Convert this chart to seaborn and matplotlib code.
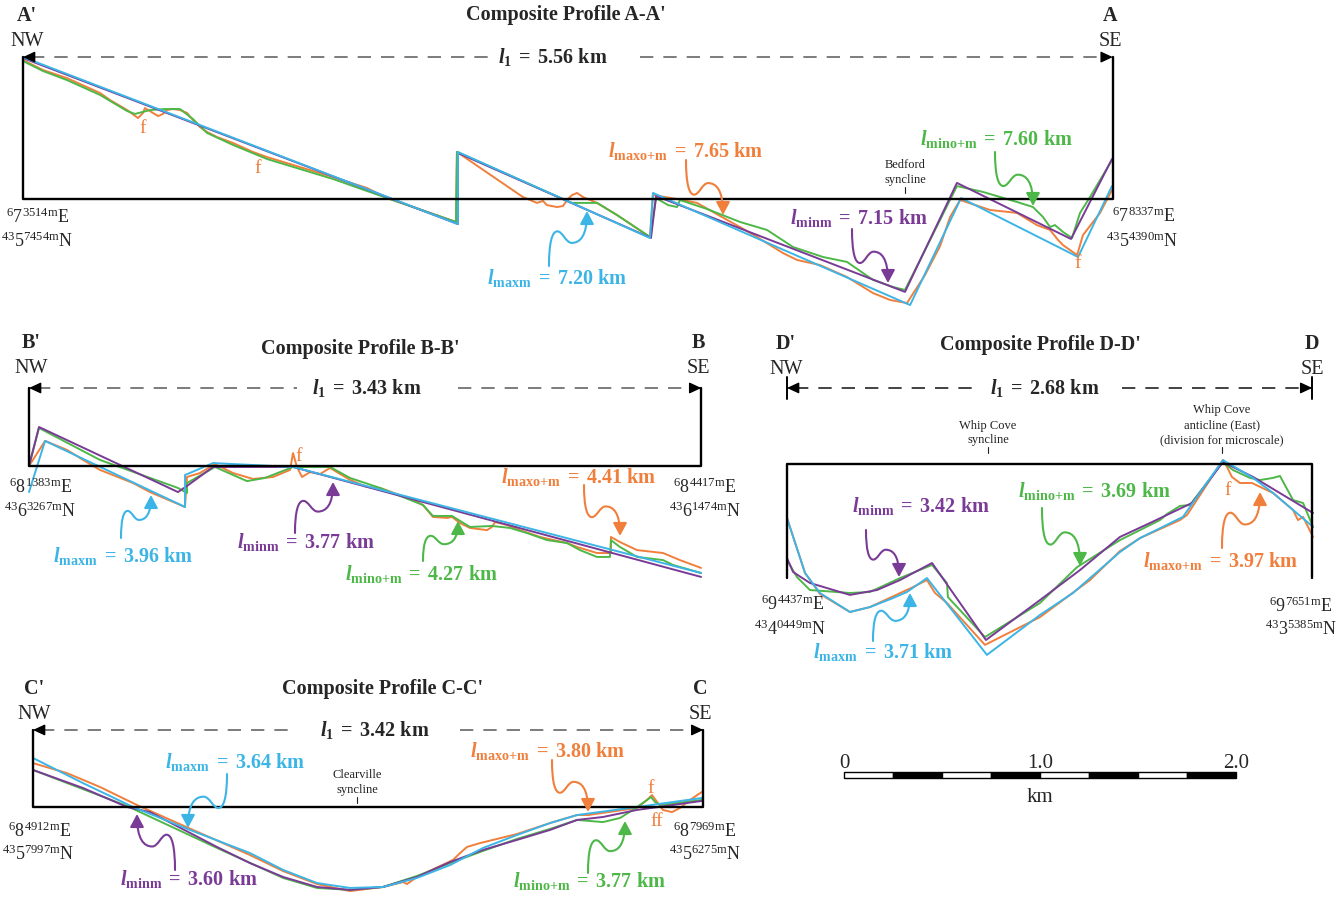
import matplotlib.pyplot as plt
import pandas as pd
import seaborn as sns
from matplotlib.patches import FancyArrowPatch
from matplotlib.path import Path

# distance along section [km] / height relative to frame line [km]
# ---- Composite Profile A-A' ----
a_maxo_x = [0, 0.102, 0.224, 0.393, 0.444, 0.531, 0.587, 0.612, 0.622, 0.663, 0.689, 0.714, 0.735, 0.765,
            0.801, 0.837, 0.867, 0.903, 0.939, 0.990, 1.071, 1.173, 1.245, 1.413, 1.582, 1.755, 1.857, 2.077,
            2.209, 2.214, 2.536, 2.551, 2.622, 2.653, 2.673, 2.724, 2.755, 2.776, 2.801, 2.827, 2.857, 2.929,
            3.031, 3.199, 3.214, 3.337, 3.439, 3.566, 3.658, 3.745, 3.878, 3.949, 4.066, 4.204, 4.337, 4.423,
            4.510, 4.602, 4.679, 4.730, 4.781, 4.934, 5.071, 5.173, 5.240, 5.281, 5.306, 5.378, 5.408, 5.495, 5.556]
a_maxo_y = [0.709, 0.658, 0.617, 0.541, 0.505, 0.454, 0.413, 0.439, 0.464, 0.439, 0.423, 0.434, 0.454, 0.459,
            0.454, 0.439, 0.403, 0.367, 0.342, 0.316, 0.286, 0.240, 0.214, 0.163, 0.112, 0.056, 0.005, -0.071,
            -0.117, 0.240, 0.020, 0.010, -0.020, -0.010, -0.031, -0.041, -0.036, -0.005, 0.020, 0.031, 0.010, -0.020,
            -0.082, -0.194, 0.020, 0.000, -0.020, -0.092, -0.143, -0.194, -0.276, -0.311, -0.337, -0.398, -0.480, -0.515,
            -0.531, -0.388, -0.240, -0.092, -0.005, -0.056, -0.071, -0.133, -0.158, -0.209, -0.235, -0.286, -0.184, -0.071, 0.046]
a_mino_x = [0, 0.102, 0.224, 0.393, 0.531, 0.571, 0.649, 0.724, 0.801, 0.867, 0.939, 1.071, 1.245, 1.582,
            1.857, 2.209, 2.214, 2.800, 2.929, 3.031, 3.199, 3.230, 3.291, 3.337, 3.352, 3.490, 3.658,
            3.796, 3.929, 4.082, 4.204, 4.337, 4.439, 4.500, 4.628, 4.765, 4.898, 5.071, 5.153, 5.204, 5.240,
            5.265, 5.306, 5.352, 5.393, 5.444, 5.556]
a_mino_y = [0.704, 0.653, 0.607, 0.531, 0.449, 0.434, 0.454, 0.459, 0.459, 0.408, 0.337, 0.276, 0.204, 0.102,
            0.005, -0.117, 0.240, -0.020, -0.020, -0.082, -0.194, 0.005, -0.031, -0.041, -0.005, -0.051, -0.117,
            -0.158, -0.245, -0.296, -0.321, -0.413, -0.449, -0.464, -0.209, 0.066, 0.036, -0.015, -0.041, -0.092, -0.143,
            -0.133, -0.168, -0.199, -0.071, 0.010, 0.199]
a_minm_x = [0, 2.219, 2.219, 3.204, 3.230, 4.500, 4.765, 5.347, 5.556]
a_minm_y = [0.719, -0.128, 0.235, -0.199, 0.015, -0.474, 0.082, -0.204, 0.204]
a_maxm_x = [0, 2.219, 2.219, 3.199, 3.214, 4.526, 4.786, 5.383, 5.556]
a_maxm_y = [0.724, -0.128, 0.240, -0.199, 0.031, -0.541, 0.005, -0.296, 0.066]

# ---- Composite Profile B-B' ----
b_maxo_x = [0, 0.082, 0.194, 0.276, 0.362, 0.531, 0.617, 0.796, 0.806, 0.872, 0.949, 1.041, 1.143, 1.245,
            1.332, 1.347, 1.367, 1.393, 1.434, 1.485, 1.536, 1.571, 1.638, 1.724, 1.791, 1.959, 2.010, 2.061,
            2.133, 2.158, 2.199, 2.250, 2.337, 2.362, 2.378, 2.439, 2.505, 2.607, 2.745, 2.796, 2.898, 2.969,
            2.969, 3.015, 3.102, 3.235, 3.321, 3.429]
b_maxo_y = [0, 0.128, 0.082, 0.031, -0.020, -0.087, -0.133, -0.209, -0.056, -0.036, 0.010, -0.036, -0.066, -0.056,
            -0.020, 0.066, -0.005, -0.056, -0.031, -0.041, -0.010, -0.031, -0.071, -0.107, -0.112, -0.173, -0.199, -0.260,
            -0.265, -0.260, -0.291, -0.316, -0.327, -0.311, -0.286, -0.301, -0.327, -0.362, -0.393, -0.413, -0.444, -0.444,
            -0.362, -0.388, -0.429, -0.444, -0.480, -0.520]
b_mino_x = [0, 0.051, 0.362, 0.760, 0.806, 0.806, 0.949, 1.112, 1.204, 1.347, 1.536, 1.638, 1.791, 2.010,
            2.061, 2.158, 2.250, 2.362, 2.454, 2.541, 2.643, 2.745, 2.811, 2.898, 2.964, 2.969, 3.015, 3.102,
            3.235, 3.286, 3.429]
b_mino_y = [0, 0.194, 0.031, -0.112, -0.138, -0.087, -0.005, -0.077, -0.061, -0.005, -0.005, -0.061, -0.112, -0.199,
            -0.255, -0.255, -0.311, -0.306, -0.316, -0.342, -0.378, -0.393, -0.429, -0.464, -0.464, -0.378, -0.413, -0.464,
            -0.480, -0.505, -0.546]
b_minm_x = [0, 0.051, 0.760, 0.806, 0.939, 1.347, 3.429]
b_minm_y = [0, 0.199, -0.133, -0.102, -0.005, -0.005, -0.566]
b_maxm_x = [0, 0.082, 0.796, 0.796, 0.939, 1.347, 3.429]
b_maxm_y = [-0.133, 0.128, -0.209, -0.046, 0.015, -0.005, -0.546]

# ---- Composite Profile C-C' ----
c_maxo_x = [0, 0.173, 0.342, 0.531, 0.816, 1.107, 1.276, 1.449, 1.617, 1.786, 1.888, 1.908, 1.959, 2.143,
            2.179, 2.214, 2.281, 2.469, 2.653, 2.776, 2.832, 3.082, 3.133, 3.158, 3.184, 3.214, 3.260, 3.301,
            3.352, 3.413]
c_maxo_y = [0.224, 0.173, 0.102, 0.010, -0.117, -0.245, -0.327, -0.393, -0.429, -0.408, -0.383, -0.393, -0.357, -0.270,
            -0.235, -0.204, -0.184, -0.138, -0.077, -0.041, -0.041, -0.005, 0.036, 0.061, 0.026, -0.015, -0.026, -0.005,
            0.036, 0.077]
c_mino_x = [0, 0.480, 0.939, 1.276, 1.449, 1.617, 1.786, 1.959, 2.128, 2.296, 2.469, 2.638, 2.776, 2.908,
            2.995, 3.061, 3.133, 3.153, 3.173, 3.199, 3.413]
c_mino_y = [0.189, 0.005, -0.209, -0.362, -0.413, -0.423, -0.408, -0.352, -0.286, -0.224, -0.163, -0.112, -0.066, -0.077,
            -0.056, -0.015, 0.036, 0.051, 0.026, 0.010, 0.036]
c_minm_x = [0, 0.255, 0.480, 0.597, 0.939, 1.107, 1.276, 1.449, 1.617, 1.786, 1.959, 2.128, 2.296, 2.469,
            2.638, 2.776, 2.908, 3.082, 3.413]
c_minm_y = [0.189, 0.097, 0.000, -0.026, -0.204, -0.286, -0.357, -0.408, -0.423, -0.408, -0.357, -0.281, -0.219, -0.168,
            -0.117, -0.066, -0.051, -0.015, 0.031]
c_maxm_x = [0, 0.255, 0.510, 0.801, 1.107, 1.276, 1.449, 1.617, 1.786, 1.959, 2.128, 2.296, 2.469, 2.638,
            2.776, 3.082, 3.413]
c_maxm_y = [0.250, 0.122, 0.000, -0.117, -0.235, -0.321, -0.388, -0.413, -0.408, -0.362, -0.296, -0.209, -0.143, -0.082,
            -0.041, 0.000, 0.046]

# ---- Composite Profile D-D' ----
d_maxo_x = [0, 0.092, 0.168, 0.321, 0.423, 0.643, 0.714, 0.755, 0.816, 1.010, 1.291, 1.546, 1.699, 1.801,
            2.005, 2.041, 2.224, 2.245, 2.270, 2.311, 2.372, 2.480, 2.582, 2.607, 2.633, 2.684]
d_maxo_y = [-0.276, -0.556, -0.663, -0.755, -0.730, -0.628, -0.592, -0.658, -0.709, -0.923, -0.781, -0.592, -0.444, -0.378,
            -0.286, -0.260, 0.020, -0.015, -0.066, -0.097, -0.097, -0.148, -0.235, -0.286, -0.270, -0.372]
d_mino_x = [0, 0.051, 0.117, 0.321, 0.423, 0.577, 0.740, 0.816, 0.821, 1.010, 1.291, 1.480, 1.699, 1.903,
            1.939, 2.005, 2.056, 2.224, 2.276, 2.362, 2.413, 2.480, 2.515, 2.582, 2.633, 2.684]
d_mino_y = [-0.490, -0.577, -0.643, -0.658, -0.653, -0.582, -0.515, -0.607, -0.679, -0.883, -0.709, -0.526, -0.388, -0.286,
            -0.255, -0.214, -0.209, 0.010, -0.031, -0.071, -0.082, -0.071, -0.061, -0.184, -0.199, -0.321]
d_minm_x = [0, 0.031, 0.117, 0.321, 0.459, 0.577, 0.740, 1.015, 1.291, 1.495, 1.699, 1.852, 2.066, 2.224, 2.378, 2.684]
d_minm_y = [-0.480, -0.551, -0.607, -0.668, -0.643, -0.592, -0.505, -0.898, -0.694, -0.541, -0.372, -0.301, -0.199, 0.010,
            -0.066, -0.250]
d_maxm_x = [0, 0.092, 0.168, 0.321, 0.423, 0.541, 0.612, 0.714, 1.020, 1.291, 1.459, 1.699, 1.801, 2.020,
            2.224, 2.378, 2.480, 2.684]
d_maxm_y = [-0.276, -0.556, -0.658, -0.755, -0.730, -0.684, -0.653, -0.582, -0.974, -0.770, -0.658, -0.449, -0.378, -0.270,
            0.020, -0.071, -0.148, -0.321]

# section lengths [km]
a_lengths = {"l1": 5.56, "maxo+m": 7.65, "mino+m": 7.60, "minm": 7.15, "maxm": 7.20}
b_lengths = {"l1": 3.43, "maxo+m": 4.41, "mino+m": 4.27, "minm": 3.77, "maxm": 3.96}
c_lengths = {"l1": 3.42, "maxo+m": 3.80, "mino+m": 3.77, "minm": 3.60, "maxm": 3.64}
d_lengths = {"l1": 2.68, "maxo+m": 3.97, "mino+m": 3.69, "minm": 3.42, "maxm": 3.71}

# UTM end-point coordinates (prefix, big digit, metres, axis)
a_coords = [("6", "7", "3514", "E"), ("43", "5", "7454", "N"), ("6", "7", "8337", "E"), ("43", "5", "4390", "N")]
b_coords = [("6", "8", "1383", "E"), ("43", "6", "3267", "N"), ("6", "8", "4417", "E"), ("43", "6", "1474", "N")]
c_coords = [("6", "8", "4912", "E"), ("43", "5", "7997", "N"), ("6", "8", "7969", "E"), ("43", "5", "6275", "N")]
d_coords = [("6", "9", "4437", "E"), ("43", "4", "0449", "N"), ("6", "9", "7651", "E"), ("43", "3", "5385", "N")]

scale_km = [0, 1.0, 2.0]
scale_edges = [0, 0.25, 0.5, 0.75, 1.0, 1.25, 1.5, 1.75]

ORDER = ["maxo+m", "mino+m", "minm", "maxm"]
COLORS = {"maxo+m": "#F07F3C", "mino+m": "#4DB848", "minm": "#7A3B96", "maxm": "#3CB5E6"}
SUBS = {"maxo+m": "maxo{+}m", "mino+m": "mino{+}m", "minm": "minm", "maxm": "maxm"}

W, H = 1342, 898
PX_PER_KM = 196.0

sns.set_theme(style="white")
plt.rcParams["font.family"] = ["Liberation Serif", "DejaVu Serif"]
plt.rcParams["mathtext.fontset"] = "custom"
plt.rcParams["mathtext.rm"] = "Liberation Serif"
plt.rcParams["mathtext.it"] = "Liberation Serif:italic:bold"
plt.rcParams["mathtext.bf"] = "Liberation Serif:bold"

fig = plt.figure(figsize=(W / 100, H / 100), dpi=100)
fig.patch.set_facecolor("white")


def length_label(sub, value):
    return rf"$\mathit{{l}}_{{\mathbf{{{sub}}}}}\;\mathbf{{=}}\;\mathbf{{{value:.2f}\ km}}$"


def coord_label(c):
    return rf"$^{{{c[0]}}}$" + c[1] + rf"$^{{{c[2]}\mathrm{{m}}}}$" + c[3]


def draw_panel(x0, base, l1, top, series, gap, down=None, dash_color="#666666"):
    ax = fig.add_axes([x0 / W, 0, l1 * PX_PER_KM / W, 1])
    ax.patch.set_alpha(0)
    df = pd.concat(
        [pd.DataFrame({"dist": xs, "elev": ys, "model": m}) for m, (xs, ys) in series.items()],
        ignore_index=True,
    )
    sns.lineplot(data=df, x="dist", y="elev", hue="model", hue_order=ORDER, palette=COLORS,
                 sort=False, estimator=None, legend=False, linewidth=1.4, ax=ax)
    if down is None:
        ax.plot([0, 0, l1, l1], [top, 0, 0, top], color="black", lw=1.7)
    else:
        ax.plot([0, 0, l1, l1], [down, 0, 0, down], color="black", lw=1.7)
        for xe in (0, l1):
            ax.plot([xe, xe], [top - 0.056, top + 0.056], color="black", lw=1.4)
    for a, b in ((0.04, gap[0]), (gap[1], l1 - 0.04)):
        ax.plot([a, b], [top, top], color=dash_color, lw=1.2, dashes=(8, 6))
    for xa, xt in ((0, 0.055), (l1, l1 - 0.055)):
        ax.annotate("", xy=(xa, top), xytext=(xt, top), annotation_clip=False,
                    arrowprops=dict(arrowstyle="-|>,head_length=0.6,head_width=0.28", color="black",
                                    lw=1.0, mutation_scale=12, shrinkA=0, shrinkB=0))
    for ln in ax.lines:
        ln.set_clip_on(False)
    ax.set_xlim(0, l1)
    ax.set_ylim((base - H) / PX_PER_KM, base / PX_PER_KM)
    ax.set_axis_off()
    return ax


draw_panel(23, 199, a_lengths["l1"], 0.724,
           {"maxo+m": (a_maxo_x, a_maxo_y), "mino+m": (a_mino_x, a_mino_y),
            "minm": (a_minm_x, a_minm_y), "maxm": (a_maxm_x, a_maxm_y)}, (2.383, 3.148))
draw_panel(29, 466, b_lengths["l1"], 0.398,
           {"maxo+m": (b_maxo_x, b_maxo_y), "mino+m": (b_mino_x, b_mino_y),
            "minm": (b_minm_x, b_minm_y), "maxm": (b_maxm_x, b_maxm_y)}, (1.367, 2.189))
draw_panel(33, 807, c_lengths["l1"], 0.393,
           {"maxo+m": (c_maxo_x, c_maxo_y), "mino+m": (c_mino_x, c_mino_y),
            "minm": (c_minm_x, c_minm_y), "maxm": (c_maxm_x, c_maxm_y)}, (1.347, 2.179))
draw_panel(787, 464, d_lengths["l1"], 0.388,
           {"maxo+m": (d_maxo_x, d_maxo_y), "mino+m": (d_mino_x, d_mino_y),
            "minm": (d_minm_x, d_minm_y), "maxm": (d_maxm_x, d_maxm_y)}, (0.969, 1.709),
           down=-0.582, dash_color="#222222")

# scale bar
sb = fig.add_axes([844 / W, 1 - 778 / H, 2 * PX_PER_KM / W, 6 / H])
bars = sb.bar(scale_edges, [1] * len(scale_edges), width=0.25, align="edge",
              color=["white", "black"] * 4, edgecolor="black", linewidth=1.0)
for b in bars:
    b.set_clip_on(False)
sb.set_xlim(0, 2)
sb.set_ylim(0, 1)
sb.set_axis_off()
for v in scale_km:
    sb.text(v, 1.7, "0" if v == 0 else f"{v:.1f}", ha="center", va="baseline", fontsize=15)
sb.text(1.0, -4.0, "km", ha="center", va="baseline", fontsize=15)

# overlay in pixel coordinates for lettering and call-out arrows
ov = fig.add_axes([0, 0, 1, 1])
ov.set_xlim(0, W)
ov.set_ylim(H, 0)
ov.set_axis_off()
ov.patch.set_alpha(0)

SQ = [(0.0, 0.0), (0.0, 0.42), (0.08, 0.63), (0.22, 0.63), (0.36, 0.63), (0.44, 0.42),
      (0.60, 0.42), (0.82, 0.42), (1.0, 0.55), (1.0, 1.0)]


def squiggle(start, tip, color):
    sx, sy = start
    tx, ty = tip
    verts = [(sx + u * (tx - sx), sy + v * (ty - sy)) for u, v in SQ]
    codes = [Path.MOVETO] + [Path.CURVE4] * (len(SQ) - 1)
    ov.add_patch(FancyArrowPatch(path=Path(verts, codes), color=color, lw=1.5, mutation_scale=13,
                                 arrowstyle="-|>,head_length=0.6,head_width=0.32"))


def header(title, tx, ty, left, right, lx, rx, ly, l1, l1x, l1y):
    ov.text(tx, ty, title, ha="center", va="baseline", fontsize=14.5, fontweight="bold")
    ov.text(lx, ly, left + "'", ha="center", va="baseline", fontsize=14.5, fontweight="bold")
    ov.text(lx, ly + 25, "NW", ha="center", va="baseline", fontsize=14.5)
    ov.text(rx, ly, right, ha="center", va="baseline", fontsize=14.5, fontweight="bold")
    ov.text(rx, ly + 25, "SE", ha="center", va="baseline", fontsize=14.5)
    ov.text(l1x, l1y, length_label("1", l1), ha="center", va="baseline", fontsize=14.5)


header("Composite Profile A-A'", 566, 20, "A", "A", 27, 1110, 21, a_lengths["l1"], 553, 63)
header("Composite Profile B-B'", 360, 354, "B", "B", 31, 698, 348, b_lengths["l1"], 367, 394)
header("Composite Profile C-C'", 383, 694, "C", "C", 34, 700, 694, c_lengths["l1"], 375, 736)
header("Composite Profile D-D'", 1040, 350, "D", "D", 786, 1312, 349, d_lengths["l1"], 1045, 394)

coord_pos = {
    "a": [(38, 223), (37, 247), (1144, 222), (1142, 247)],
    "b": [(41, 493), (40, 517), (705, 493), (705, 517)],
    "c": [(40, 837), (38, 860), (705, 837), (705, 860)],
    "d": [(793, 610), (790, 635), (1301, 612), (1301, 635)],
}
for key, coords in (("a", a_coords), ("b", b_coords), ("c", c_coords), ("d", d_coords)):
    for (x, y), c in zip(coord_pos[key], coords):
        ov.text(x, y, coord_label(c), ha="center", va="baseline", fontsize=13)

callouts = [
    (a_lengths, "maxo+m", 608, 157, (686, 160), (723, 215)),
    (a_lengths, "maxm", 487, 284, (549, 266), (587, 211)),
    (a_lengths, "minm", 790, 224, (852, 229), (888, 283)),
    (a_lengths, "mino+m", 920, 145, (995, 152), (1033, 206)),
    (b_lengths, "maxm", 53, 562, (121, 538), (151, 495)),
    (b_lengths, "minm", 237, 548, (295, 533), (333, 482)),
    (b_lengths, "mino+m", 345, 580, (423, 561), (458, 521)),
    (b_lengths, "maxo+m", 501, 483, (584, 485), (620, 536)),
    (c_lengths, "maxm", 165, 768, (227, 774), (188, 828)),
    (c_lengths, "minm", 120, 885, (175, 870), (137, 814)),
    (c_lengths, "maxo+m", 470, 757, (552, 760), (588, 812)),
    (c_lengths, "mino+m", 513, 887, (588, 873), (625, 821)),
    (d_lengths, "minm", 852, 512, (866, 530), (899, 577)),
    (d_lengths, "maxm", 813, 658, (873, 641), (910, 593)),
    (d_lengths, "mino+m", 1018, 497, (1042, 508), (1080, 566)),
    (d_lengths, "maxo+m", 1143, 567, (1222, 548), (1260, 492)),
]
for lengths, key, lx, ly, start, tip in callouts:
    ov.text(lx, ly, length_label(SUBS[key], lengths[key]), color=COLORS[key], ha="left",
            va="baseline", fontsize=14.5)
    squiggle(start, tip, COLORS[key])

# fault marks
for x, y, s in [(143, 133, "f"), (258, 173, "f"), (1078, 268, "f"), (299, 461, "f"),
                (1228, 495, "f"), (651, 793, "f"), (657, 826, "ff")]:
    ov.text(x, y, s, color=COLORS["maxo+m"], ha="center", va="baseline", fontsize=14)

# fold axes
folds = [(905, [165, 180], ["Bedford", "syncline"], 187),
         (357, [775, 790], ["Clearville", "syncline"], 797),
         (988, [425, 440], ["Whip Cove", "syncline"], 447),
         (1222, [410, 425, 440], ["Whip Cove", "anticline (East)", "(division for microscale)"], 447)]
for x, ys, lines, tick in folds:
    for y, s in zip(ys, lines):
        ov.text(x, y + 3.5, s, ha="center", va="baseline", fontsize=9, color="#222222")
    ov.plot([x, x], [tick, tick + 6], color="#222222", lw=0.8)

fig.savefig("out.png", dpi=100, facecolor="white")
